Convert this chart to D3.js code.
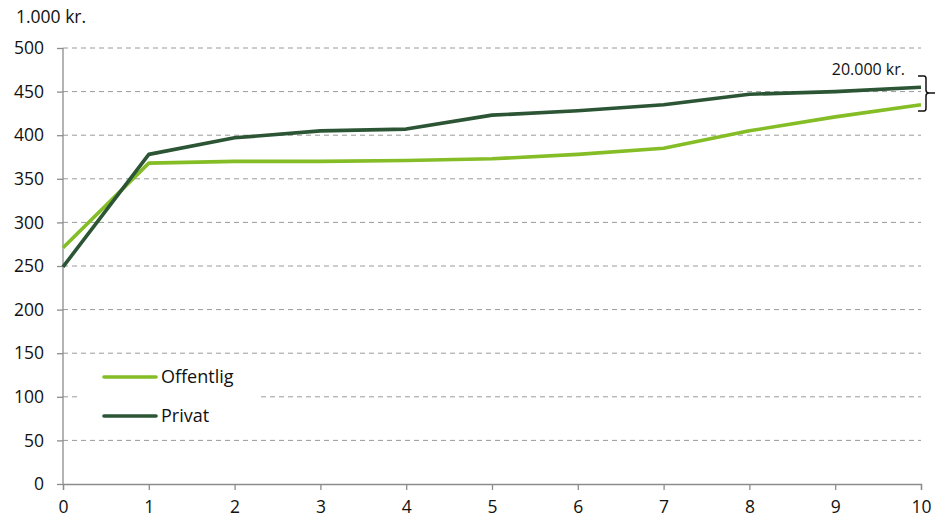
<!DOCTYPE html>
<html><head><meta charset="utf-8">
<script src="https://cdn.jsdelivr.net/npm/d3@7"></script>
<style>body{margin:0;background:#fff;font-family:"Open Sans",sans-serif;}</style>
</head><body><svg id="c" width="937" height="523"></svg>
<script>
const years = [0,1,2,3,4,5,6,7,8,9,10];
const offentlig = [271,368,370,370,371,373,378,385,405,421,435];
const privat = [249,378,397,405,407,423,428,435,447,450,455];
const yTicks = [0,50,100,150,200,250,300,350,400,450,500];
const seriesNames = ["Offentlig","Privat"];
const colors = ["#84bd26","#2b5534"];

const svg = d3.select("#c");
const x = d3.scaleLinear().domain([0,10]).range([63,921]);
const y = d3.scaleLinear().domain([0,500]).range([484,48]);

// grid
svg.append("g").selectAll("line").data(yTicks.filter(d=>d>0)).join("line")
  .attr("x1",63).attr("x2",921).attr("y1",d=>y(d)).attr("y2",d=>y(d))
  .attr("stroke","#9a9a9a").attr("stroke-width",1).attr("stroke-dasharray","5,4");

// axes
const ya = svg.append("g").attr("transform","translate(63,0)")
  .call(d3.axisLeft(y).tickValues(yTicks).tickSize(6).tickPadding(13));
const xa = svg.append("g").attr("transform","translate(0,484)")
  .call(d3.axisBottom(x).tickValues(years).tickSize(6).tickPadding(8).tickFormat(d3.format("d")));
[ya,xa].forEach(a=>{
  a.selectAll("path,line").attr("stroke","#8c8c8c").attr("stroke-width",1.3);
  a.selectAll("text").attr("font-family","Open Sans").attr("font-size",17.5).attr("fill","#111");
});
ya.select(".domain").remove();
svg.append("line").attr("x1",63).attr("x2",63).attr("y1",48).attr("y2",484).attr("stroke","#8c8c8c").attr("stroke-width",1.3);
xa.selectAll(".tick text").attr("dy","0.85em");

svg.append("text").attr("x",16).attr("y",23).text("1.000 kr.")
  .attr("font-size",17.5).attr("fill","#111");

// lines
const line = d3.line().x((d,i)=>x(years[i])).y(d=>y(d));
[offentlig,privat].forEach((s,i)=>{
  svg.append("path").datum(s).attr("d",line).attr("fill","none")
    .attr("stroke",colors[i]).attr("stroke-width",3.6).attr("stroke-linejoin","round");
});

// legend
const lg = svg.append("g");
lg.append("rect").attr("x",78).attr("y",360).attr("width",182).attr("height",75).attr("fill","#fff");
seriesNames.forEach((n,i)=>{
  const yy = 377 + i*39;
  lg.append("line").attr("x1",104).attr("x2",156).attr("y1",yy).attr("y2",yy)
    .attr("stroke",colors[i]).attr("stroke-width",3.6).attr("stroke-linecap","round");
  lg.append("text").attr("x",161).attr("y",yy+6).text(n).attr("font-size",18).attr("fill","#111");
});

// annotation brace
svg.append("text").attr("x",905).attr("y",75).attr("text-anchor","end").text("20.000 kr.")
  .attr("font-size",16).attr("fill","#111");
const bx = 918, y1 = 76, y2 = 111, ym = 93;
svg.append("path")
  .attr("d",`M${bx},${y1} L${bx+6},${y1} Q${bx+8},${y1} ${bx+8},${y1+3} L${bx+8},${ym-3} Q${bx+8},${ym} ${bx+11},${ym} L${bx+17},${ym} M${bx+11},${ym} Q${bx+8},${ym} ${bx+8},${ym+3} L${bx+8},${y2-3} Q${bx+8},${y2} ${bx+6},${y2} L${bx},${y2}`)
  .attr("fill","none").attr("stroke","#111").attr("stroke-width",1.5);
</script></body></html>
